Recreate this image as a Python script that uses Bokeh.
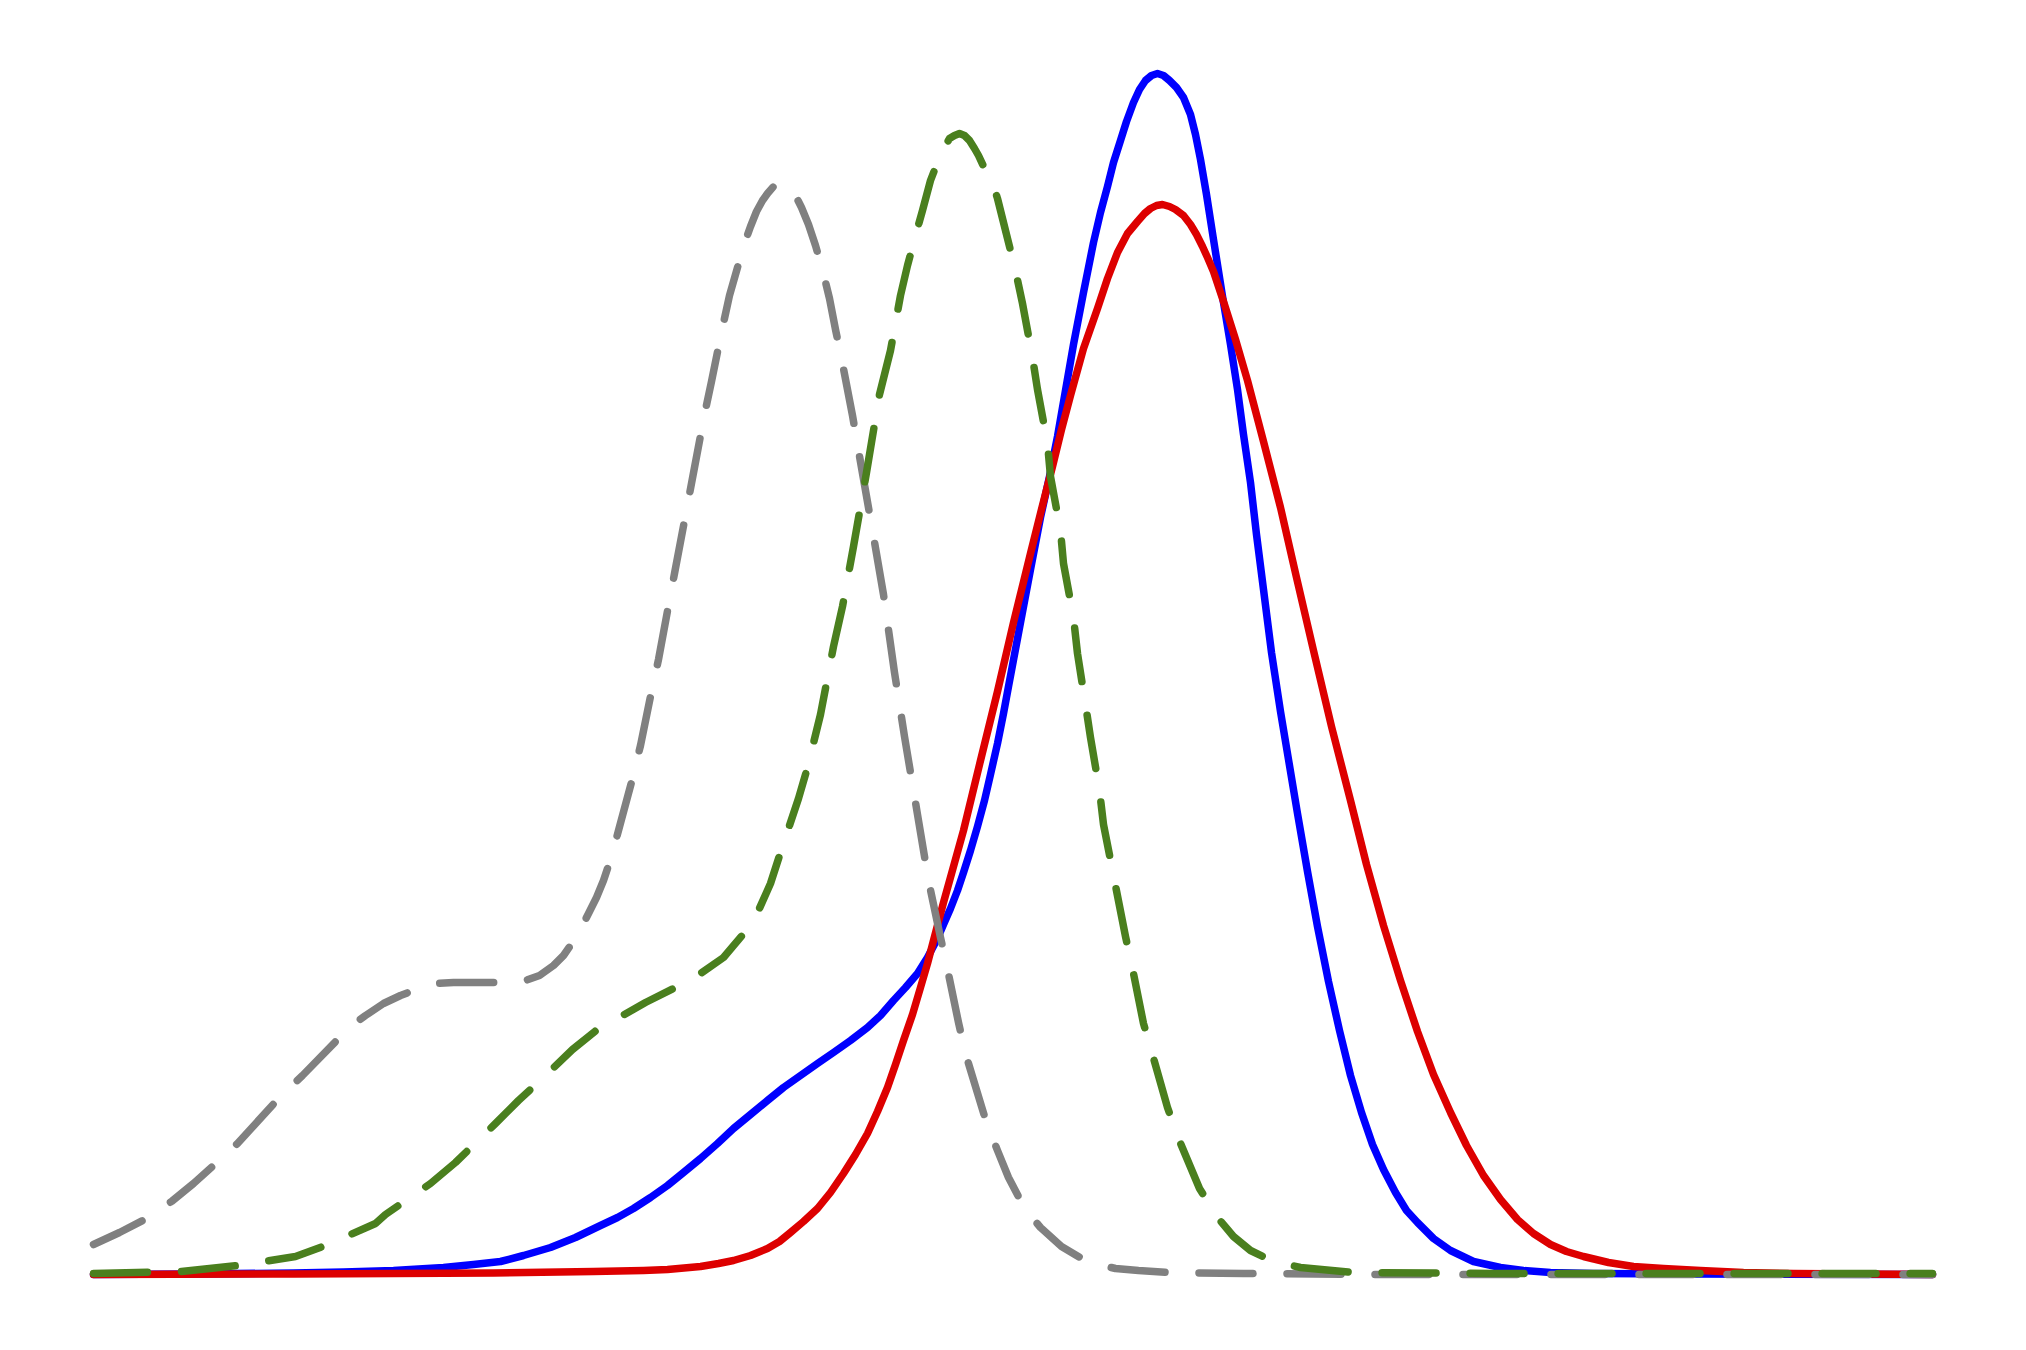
from bokeh.plotting import figure
from bokeh.models import Range1d
from bokeh.embed import file_html
from bokeh.resources import INLINE

# ---- data (x in arbitrary units, y = density) ----
gray_x = [0.00, 0.26, 0.51, 0.78, 1.00, 1.20, 1.44, 1.85, 2.09, 2.47, 2.60, 2.72, 2.90, 3.07,
          3.25, 3.44, 3.60, 3.77, 4.07, 4.32, 4.46, 4.60, 4.70, 4.79, 4.87, 4.95, 5.03, 5.10,
          5.18, 5.25, 5.39, 5.47, 5.57, 5.65, 5.75, 5.81, 5.95, 6.01, 6.11, 6.18, 6.29, 6.36,
          6.44, 6.51, 6.57, 6.63, 6.69, 6.74, 6.80, 6.86, 6.92, 6.96, 7.01, 7.08, 7.15, 7.22,
          7.29, 7.36, 7.42, 7.49, 7.59, 7.65, 7.79, 7.90, 8.01, 8.11, 8.24, 8.35, 8.47, 8.52,
          8.65, 8.72, 8.92, 9.04, 9.15, 9.27, 9.37, 9.47, 9.68, 9.90, 10.05, 10.22, 10.45,
          10.77, 11.50, 13.00, 15.00, 17.00, 18.39]
gray_y = [0.030, 0.042, 0.055, 0.073, 0.091, 0.109, 0.131, 0.176, 0.199, 0.238, 0.250, 0.259,
          0.271, 0.279, 0.286, 0.291, 0.292, 0.292, 0.292, 0.294, 0.299, 0.309, 0.319, 0.332,
          0.345, 0.361, 0.377, 0.394, 0.418, 0.444, 0.496, 0.529, 0.578, 0.615, 0.669, 0.701,
          0.775, 0.807, 0.860, 0.893, 0.947, 0.979, 1.007, 1.031, 1.048, 1.063, 1.074, 1.081,
          1.088, 1.091, 1.089, 1.086, 1.081, 1.067, 1.050, 1.029, 1.005, 0.976, 0.945, 0.911,
          0.859, 0.824, 0.744, 0.680, 0.602, 0.538, 0.460, 0.394, 0.337, 0.315, 0.252, 0.221,
          0.155, 0.124, 0.097, 0.074, 0.059, 0.047, 0.028, 0.015, 0.010, 0.006, 0.004, 0.002,
          0.001, 0.0, 0.0, 0.0, 0.0]

green_x = [0.00, 0.87, 1.45, 2.02, 2.32, 2.57, 2.82, 2.92, 3.37, 3.62, 4.02, 4.25, 4.52, 4.79,
           5.05, 5.29, 5.52, 5.82, 6.07, 6.30, 6.52, 6.65, 6.77, 6.87, 7.05, 7.14, 7.27, 7.40,
           7.49, 7.60, 7.73, 7.86, 7.97, 8.07, 8.14, 8.22, 8.29, 8.37, 8.42, 8.47, 8.51, 8.56,
           8.61, 8.66, 8.71, 8.76, 8.81, 8.85, 8.92, 9.00, 9.04, 9.09, 9.22, 9.29, 9.39, 9.44,
           9.54, 9.57, 9.67, 9.70, 9.80, 9.84, 9.92, 9.97, 10.06, 10.10, 10.32, 10.39, 10.50,
           10.59, 10.74, 10.85, 11.06, 11.24, 11.40, 11.57, 11.80, 12.07, 12.60, 14.00, 16.00,
           18.39]
green_y = [0.001, 0.003, 0.009, 0.018, 0.029, 0.040, 0.051, 0.060, 0.091, 0.112, 0.151, 0.174,
           0.199, 0.225, 0.246, 0.259, 0.272, 0.287, 0.301, 0.317, 0.343, 0.364, 0.391, 0.422,
           0.476, 0.507, 0.560, 0.628, 0.668, 0.728, 0.802, 0.880, 0.924, 0.979, 1.009, 1.039,
           1.064, 1.094, 1.107, 1.117, 1.127, 1.136, 1.139, 1.141, 1.139, 1.134, 1.126, 1.119,
           1.104, 1.089, 1.076, 1.056, 1.004, 0.971, 0.917, 0.885, 0.831, 0.798, 0.744, 0.711,
           0.657, 0.621, 0.570, 0.537, 0.484, 0.450, 0.338, 0.306, 0.251, 0.220, 0.167, 0.136,
           0.086, 0.057, 0.038, 0.024, 0.013, 0.007, 0.002, 0.001, 0.001, 0.001]

blue_x = [0.00, 1.00, 2.00, 2.50, 3.00, 3.50, 3.80, 4.07, 4.30, 4.57, 4.82, 5.07, 5.24, 5.40,
          5.57, 5.74, 5.90, 6.07, 6.24, 6.40, 6.57, 6.74, 6.90, 7.07, 7.24, 7.40, 7.57, 7.74,
          7.87, 8.00, 8.12, 8.24, 8.34, 8.44, 8.50, 8.57, 8.64, 8.70, 8.77, 8.84, 8.91, 8.97,
          9.04, 9.10, 9.15, 9.21, 9.27, 9.37, 9.47, 9.56, 9.64, 9.72, 9.80, 9.90, 10.00, 10.07,
          10.14, 10.20, 10.27, 10.33, 10.40, 10.46, 10.52, 10.58, 10.64, 10.70, 10.76, 10.83,
          10.90, 10.97, 11.02, 11.07, 11.13, 11.20, 11.30, 11.37, 11.44, 11.50, 11.57, 11.63,
          11.70, 11.78, 11.87, 11.95, 12.04, 12.14, 12.24, 12.35, 12.46, 12.57, 12.68, 12.79,
          12.90, 13.02, 13.13, 13.24, 13.40, 13.57, 13.80, 14.07, 14.30, 14.57, 15.00, 16.00,
          18.39]
blue_y = [0.000, 0.0005, 0.0015, 0.0025, 0.004, 0.007, 0.010, 0.013, 0.019, 0.027, 0.037,
          0.049, 0.057, 0.066, 0.077, 0.089, 0.102, 0.116, 0.131, 0.146, 0.160, 0.174, 0.187,
          0.199, 0.211, 0.222, 0.234, 0.247, 0.259, 0.274, 0.287, 0.301, 0.317, 0.336, 0.350,
          0.366, 0.384, 0.402, 0.424, 0.448, 0.474, 0.500, 0.531, 0.561, 0.588, 0.620, 0.652,
          0.705, 0.757, 0.798, 0.838, 0.884, 0.930, 0.982, 1.032, 1.062, 1.088, 1.112, 1.134,
          1.153, 1.172, 1.185, 1.194, 1.199, 1.201, 1.199, 1.194, 1.187, 1.177, 1.160, 1.140,
          1.115, 1.080, 1.035, 0.972, 0.930, 0.885, 0.840, 0.792, 0.740, 0.685, 0.622, 0.563,
          0.515, 0.461, 0.403, 0.348, 0.293, 0.244, 0.199, 0.162, 0.130, 0.105, 0.082, 0.064,
          0.052, 0.036, 0.024, 0.013, 0.007, 0.004, 0.002, 0.001, 0.0005, 0.000]

red_x = [0.00, 2.00, 3.00, 4.00, 5.00, 5.50, 5.74, 6.07, 6.25, 6.40, 6.57, 6.74, 6.86, 6.97,
         7.10, 7.24, 7.37, 7.50, 7.62, 7.74, 7.84, 7.94, 8.02, 8.10, 8.19, 8.27, 8.34, 8.40,
         8.50, 8.60, 8.70, 8.87, 9.04, 9.20, 9.37, 9.48, 9.59, 9.68, 9.77, 9.90, 10.04, 10.14,
         10.24, 10.34, 10.44, 10.51, 10.57, 10.63, 10.69, 10.76, 10.82, 10.90, 10.97, 11.03,
         11.09, 11.14, 11.20, 11.25, 11.30, 11.42, 11.54, 11.70, 11.87, 12.03, 12.20, 12.38,
         12.57, 12.73, 12.90, 13.07, 13.24, 13.40, 13.57, 13.73, 13.90, 14.07, 14.24, 14.40,
         14.57, 14.73, 14.90, 15.15, 15.40, 15.70, 16.07, 16.50, 17.00, 18.39]
red_y = [0.000, 0.0005, 0.001, 0.0015, 0.003, 0.004, 0.005, 0.008, 0.011, 0.014, 0.019, 0.026,
         0.033, 0.042, 0.053, 0.066, 0.082, 0.101, 0.120, 0.141, 0.163, 0.187, 0.210, 0.234,
         0.260, 0.287, 0.311, 0.334, 0.372, 0.408, 0.444, 0.514, 0.583, 0.652, 0.721, 0.765,
         0.808, 0.845, 0.879, 0.926, 0.966, 0.996, 1.022, 1.041, 1.053, 1.061, 1.066, 1.069,
         1.070, 1.068, 1.065, 1.059, 1.050, 1.040, 1.028, 1.017, 1.003, 0.988, 0.973, 0.935,
         0.894, 0.833, 0.767, 0.697, 0.624, 0.548, 0.474, 0.410, 0.349, 0.294, 0.243, 0.200,
         0.162, 0.129, 0.099, 0.075, 0.055, 0.041, 0.030, 0.023, 0.018, 0.012, 0.008, 0.006,
         0.004, 0.002, 0.001, 0.000]

LW = 7.5

p = figure(width=2010, height=1334, output_backend="svg", toolbar_location=None,
           x_axis_location=None, y_axis_location=None,
           x_range=Range1d(-0.93, 19.17), y_range=Range1d(-0.06, 1.274),
           min_border=0)
p.grid.visible = False
p.outline_line_color = None
p.background_fill_color = "white"
p.border_fill_color = "white"

p.line(blue_x, blue_y, line_color="#0000ff", line_width=LW, line_cap="round", line_join="round")
p.line(red_x, red_y, line_color="#dd0000", line_width=LW, line_cap="round", line_join="round")
p.line(gray_x, gray_y, line_color="#808080", line_width=LW, line_cap="round",
       line_join="round", line_dash="54 34")
p.line(green_x, green_y, line_color="#4a7f1e", line_width=LW, line_cap="round",
       line_join="round", line_dash="54 34")

open("out.html", "w").write(file_html(p, INLINE))
